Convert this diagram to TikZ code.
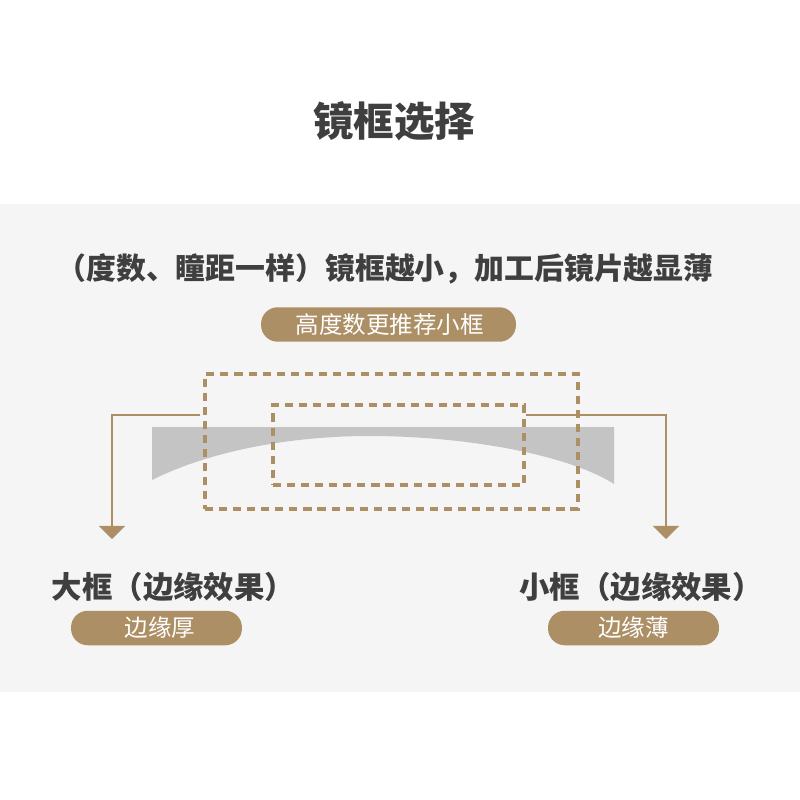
\documentclass[tikz,border=0pt]{standalone}
\usepackage{fontspec}
\newfontfamily\cjk{Noto Sans CJK SC}
\usepackage{xcolor}
\usetikzlibrary{arrows.meta, positioning, calc}
\definecolor{tan}{HTML}{AD8F65}
\definecolor{panel}{HTML}{F5F5F5}
\definecolor{band}{HTML}{C4C4C4}
\definecolor{ink}{HTML}{3F3F3F}

\begin{document}
\begin{tikzpicture}[
        x=0.02cm, y=-0.02cm,
        heading/.style={text=ink, font=\cjk\bfseries\fontsize{17pt}{20pt}\selectfont, inner sep=0pt},
        sublabel/.style={heading, font=\cjk\bfseries\fontsize{17.3pt}{20pt}\selectfont},
        pill/.style={rectangle, rounded corners=9.5pt, fill=tan, text=white, minimum height=0.69cm, inner sep=0pt, font=\cjk\fontsize{13.4pt}{16pt}\selectfont},
        frame/.style={rectangle, draw=tan, line width=1.9pt, dash pattern=on 4.6pt off 3.4pt, inner sep=0pt},
        rel/.style={draw=tan, line width=1.3pt, -{Triangle[length=7.5pt, width=15pt]}}
    ]
        \useasboundingbox (0,0) rectangle (800,800);
        \fill[white] (0,0) rectangle (800,800);
        \fill[panel] (0,204) rectangle (800,692);

        \node[text=ink, font=\cjk\bfseries\fontsize{23pt}{28pt}\selectfont, inner sep=0pt] (title) at (394,121) {镜框选择};
        \node[heading] (intro) at (385,269) {（度数、瞳距一样）镜框越小，加工后镜片越显薄};
        \node[pill, minimum width=5.1cm] (advice) at (388.5,324.5) {\hspace*{1.5pt}高度数更推荐小框};

        % lens section
        \fill[band] (152,427) -- (614,427) -- (614,484)
            .. controls (565,453) and (460,436) .. (370,436)
            .. controls (290,436) and (210,451) .. (152,480) -- cycle;

        \node[frame, minimum width=7.46cm, minimum height=2.7cm] (bigframe) at (391.5,441.5) {};
        \node[frame, minimum width=5.02cm, minimum height=1.6cm] (smallframe) at (398.5,445) {};

        \node[sublabel] (biglabel) at (173.5,587) {大框（边缘效果）};
        \node[sublabel] (smalllabel) at (641,587) {小框（边缘效果）};
        \node[pill, minimum width=3.42cm] (thick) at (156.5,628) {\hspace*{4pt}边缘厚};
        \node[pill, minimum width=3.42cm] (thin) at (633.5,628) {边缘薄};

        \coordinate (bigstart) at ($(bigframe.west)+(-3,-26.5)$);
        \coordinate (smallstart) at (smallframe.east |- bigstart);
        \coordinate (bigtip) at (112,539);
        \coordinate (smalltip) at (666,539);

        \draw[rel] (bigstart) -| (bigtip);
        \draw[rel] (smallstart) -| (smalltip);
    \end{tikzpicture}
\end{document}
